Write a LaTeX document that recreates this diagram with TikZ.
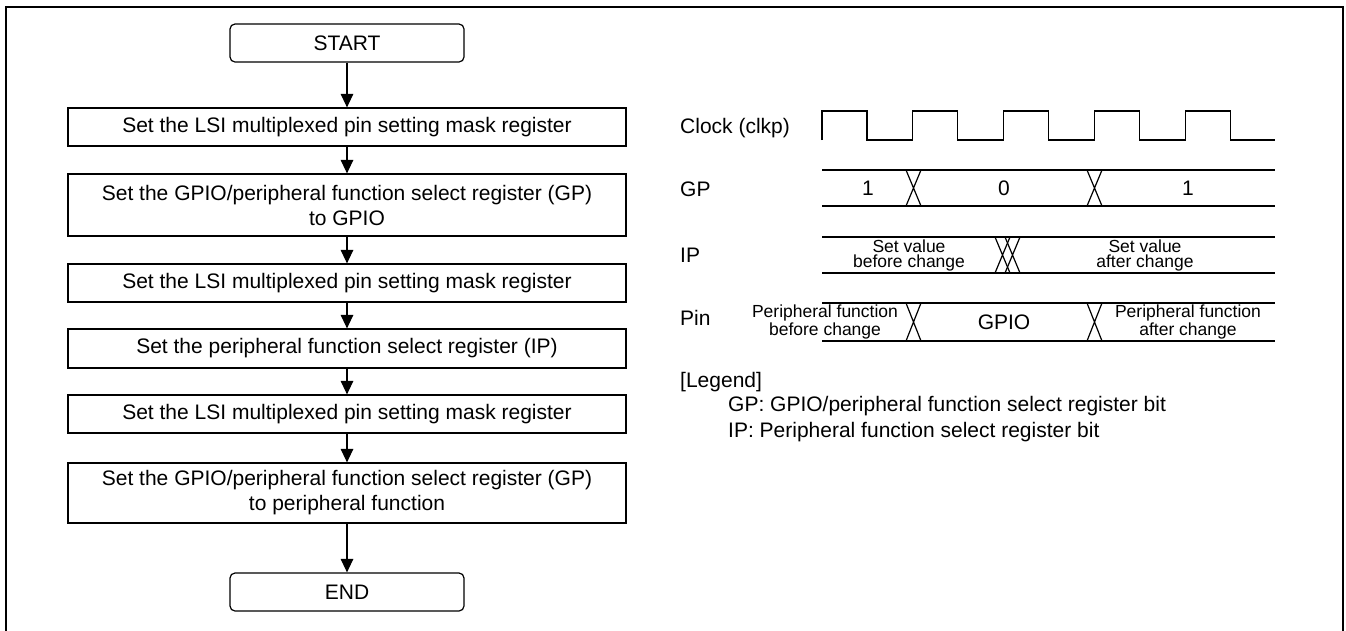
\documentclass[tikz,border=0pt]{standalone}
\usepackage{fontspec}
\setmainfont{Liberation Sans}
\usetikzlibrary{arrows.meta}
\begin{document}
\begin{tikzpicture}[x=1pt,y=-1pt,
  stepbox/.style={draw, line width=1.2pt, minimum width=558pt, inner sep=0pt, align=center, font=\fontsize{21}{25}\selectfont},
  term/.style={draw, rounded corners=5pt, line width=1.2pt, minimum width=234pt, minimum height=38pt, inner sep=0pt, font=\fontsize{21}{25}\selectfont},
  flow/.style={line width=1.2pt, -{Triangle[width=12.5pt,length=13.5pt]}},
  sig/.style={line width=1.2pt},
  lbl/.style={anchor=base west, inner sep=0pt, font=\fontsize{21}{25}\selectfont},
  val/.style={inner sep=0pt, font=\fontsize{21}{25}\selectfont},
  small/.style={inner sep=0pt, align=center, font=\fontsize{17.5}{15}\selectfont},
]
\useasboundingbox (0,0) rectangle (1346,630);
% outer frame
\draw[line width=1.6pt] (6,640) -- (6,7) -- (1343,7) -- (1343,640);

% flowchart
\node[term] (start) at (347,43) {START};
\node[stepbox, minimum height=38pt] (b1) at (347,127) {Set the LSI multiplexed pin setting mask register};
\node[stepbox, minimum height=62pt] (b2) at (347,205) {Set the GPIO/peripheral function select register (GP)\\to GPIO};
\node[stepbox, minimum height=38pt] (b3) at (347,283) {Set the LSI multiplexed pin setting mask register};
\node[stepbox, minimum height=39pt] (b4) at (347,348.5) {Set the peripheral function select register (IP)};
\node[stepbox, minimum height=38pt] (b5) at (347,414) {Set the LSI multiplexed pin setting mask register};
\node[stepbox, minimum height=60pt] (b6) at (347,493) {Set the GPIO/peripheral function select register (GP)\\to peripheral function};
\node[term] (end) at (347,592) {END};
\draw[flow] (start) -- (b1);
\draw[flow] (b1) -- (b2);
\draw[flow] (b2) -- (b3);
\draw[flow] (b3) -- (b4);
\draw[flow] (b4) -- (b5);
\draw[flow] (b5) -- (b6);
\draw[flow] (b6) -- (end);

% timing labels
\node[lbl] (lclk) at (680,133) {Clock (clkp)};
\node[lbl] (lgp) at (680,196) {GP};
\node[lbl] (lip) at (680,262) {IP};
\node[lbl] (lpin) at (680,325) {Pin};

% clock
\draw[sig] (822,140) -- (822,111) -- (867,111) -- (867,140)
  -- (912.8,140) -- (912.8,111) -- (957.8,111) -- (957.8,140)
  -- (1003.6,140) -- (1003.6,111) -- (1048.6,111) -- (1048.6,140)
  -- (1094.4,140) -- (1094.4,111) -- (1139.4,111) -- (1139.4,140)
  -- (1185.2,140) -- (1185.2,111) -- (1230.2,111) -- (1230.2,140) -- (1275,140);

% GP
\draw[sig] (822,170) -- (1275,170) (822,206) -- (1275,206);
\draw[sig] (906,170) -- (921,206) (921,170) -- (906,206);
\draw[sig] (1087,170) -- (1102,206) (1102,170) -- (1087,206);
\node[val] (gp1) at (868,188) {1};
\node[val] (gp0) at (1004,188) {0};
\node[val] (gp2) at (1188,188) {1};

% IP
\draw[sig] (822,237) -- (1275,237) (822,273) -- (1275,273);
\draw[sig] (995,237) -- (1010,273) (1010,237) -- (995,273);
\draw[sig] (1005,237) -- (1020,273) (1020,237) -- (1005,273);
\node[small] (ip1) at (909,255) {Set value\\before change};
\node[small] (ip2) at (1145,255) {Set value\\after change};

% Pin
\draw[sig] (822,303) -- (1275,303) (822,341) -- (1275,341);
\draw[sig] (906,303) -- (921,341) (921,303) -- (906,341);
\draw[sig] (1087,303) -- (1102,341) (1102,303) -- (1087,341);
\node[small] (pin1) at (825,322) {Peripheral function\\before change};
\node[val] (pin2) at (1004,322) {GPIO};
\node[small] (pin3) at (1188,322) {Peripheral function\\after change};

% legend
\node[lbl] (leg) at (680,387) {[Legend]};
\node[lbl] (leg1) at (728,411) {GP: GPIO/peripheral function select register bit};
\node[lbl] (leg2) at (728,437) {IP: Peripheral function select register bit};
\end{tikzpicture}
\end{document}
